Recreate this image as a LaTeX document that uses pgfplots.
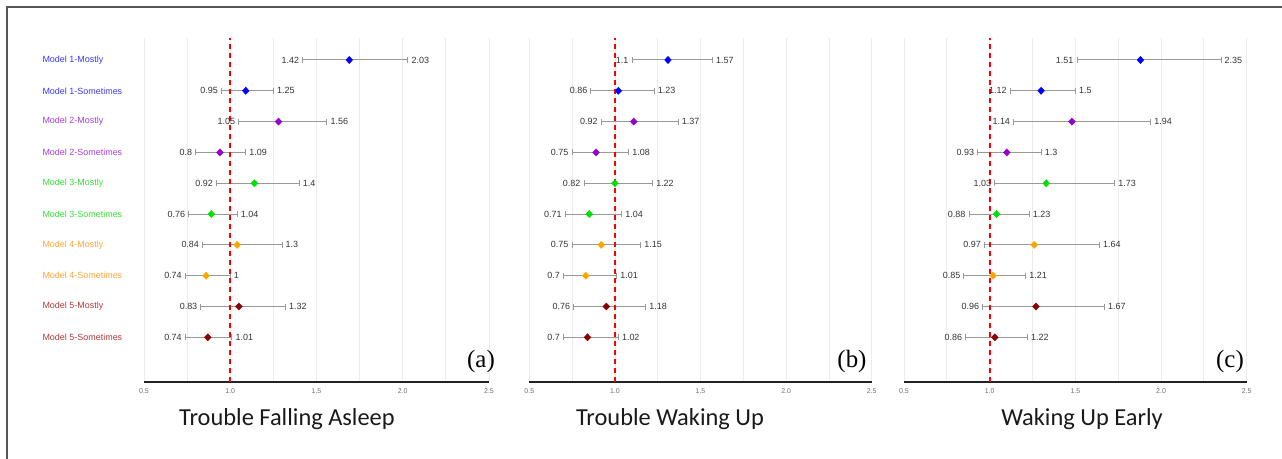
\documentclass[border=0pt]{standalone}
\usepackage{pgfplots}
\usepackage{pgfplotstable}
\usepackage{fontspec}
\pgfplotsset{compat=1.18}
\setmainfont{Liberation Sans}
\newfontfamily\titlefont{Carlito}
\newfontfamily\seriffont{Liberation Serif}

\definecolor{mone}{HTML}{0000FF}
\definecolor{mtwo}{HTML}{9400D3}
\definecolor{mthree}{HTML}{00E000}
\definecolor{mfour}{HTML}{FFA500}
\definecolor{mfive}{HTML}{8B0000}
\definecolor{lone}{HTML}{3A3AF0}
\definecolor{ltwo}{HTML}{A23EDB}
\definecolor{lthree}{HTML}{33DD33}
\definecolor{lfour}{HTML}{FFA535}
\definecolor{lfive}{HTML}{B03A3A}
\definecolor{barc}{HTML}{999999}
\definecolor{gridc}{HTML}{EBEBEB}
\definecolor{axisc}{HTML}{222222}
\definecolor{tickc}{HTML}{6E6E6E}
\definecolor{valc}{HTML}{333333}
\definecolor{framec}{HTML}{555555}

% y: 9 = Model 1-Mostly ... 0 = Model 5-Sometimes
\pgfplotstableread{
y est lo hi cls
9 1.69 1.42 2.03 m1
8 1.09 0.95 1.25 m1
7 1.28 1.05 1.56 m2
6 0.94 0.8 1.09 m2
5 1.14 0.92 1.4 m3
4 0.89 0.76 1.04 m3
3 1.04 0.84 1.3 m4
2 0.86 0.74 1 m4
1 1.05 0.83 1.32 m5
0 0.87 0.74 1.01 m5
}\asleep

\pgfplotstableread{
y est lo hi cls
9 1.31 1.1 1.57 m1
8 1.02 0.86 1.23 m1
7 1.11 0.92 1.37 m2
6 0.89 0.75 1.08 m2
5 1.00 0.82 1.22 m3
4 0.85 0.71 1.04 m3
3 0.92 0.75 1.15 m4
2 0.83 0.7 1.01 m4
1 0.95 0.76 1.18 m5
0 0.84 0.7 1.02 m5
}\wakingup

\pgfplotstableread{
y est lo hi cls
9 1.88 1.51 2.35 m1
8 1.30 1.12 1.5 m1
7 1.48 1.14 1.94 m2
6 1.10 0.93 1.3 m2
5 1.33 1.03 1.73 m3
4 1.04 0.88 1.23 m3
3 1.26 0.97 1.64 m4
2 1.02 0.85 1.21 m4
1 1.27 0.96 1.67 m5
0 1.03 0.86 1.22 m5
}\early

\pgfplotsset{
  forest/.style={
    scale only axis, height=344bp,
    xmin=0.5, xmax=2.5, ymin=-1.45, ymax=9.714,
    axis x line*=bottom, axis y line*=left,
    x axis line style={-, line width=2bp, color=axisc},
    y axis line style={draw=none},
    xtick={0.5,1,1.5,2,2.5}, xticklabels={0.5,1.0,1.5,2.0,2.5},
    minor xtick={0.75,1.25,1.75,2.25},
    xmajorgrids, xminorgrids,
    major grid style={gridc, line width=0.8bp},
    minor grid style={gridc, line width=0.8bp},
    tick style={draw=none},
    xticklabel style={font=\fontsize{7}{8}\selectfont, text=tickc, yshift=-3bp},
    ytick=\empty,
    clip=false,
  },
}

\newcommand\forest[1]{%
  \addplot[only marks, mark=none, error bars/.cd, x dir=both, x explicit,
    error bar style={draw=barc, line width=1bp},
    error mark options={draw=barc, line width=1bp, mark size=3bp, rotate=90}]
    table[x=est, y=y, x error plus expr=\thisrow{hi}-\thisrow{est},
          x error minus expr=\thisrow{est}-\thisrow{lo}] {#1};
  \addplot[red, line width=1.8bp, dash pattern=on 5bp off 4bp] coordinates {(1,-1.45) (1,9.714)};
  \addplot[scatter, only marks, scatter src=explicit symbolic,
    mark options={xscale=1.25},
    scatter/classes={
      m1={mark=diamond*, mark size=3.6bp, draw=mone, fill=mone},
      m2={mark=diamond*, mark size=3.6bp, draw=mtwo, fill=mtwo},
      m3={mark=diamond*, mark size=3.6bp, draw=mthree, fill=mthree},
      m4={mark=diamond*, mark size=3.6bp, draw=mfour, fill=mfour},
      m5={mark=diamond*, mark size=3.6bp, draw=mfive, fill=mfive}}]
    table[x=est, y=y, meta=cls] {#1};
  \addplot[draw=none, mark=none, nodes near coords, point meta=explicit symbolic,
    nodes near coords style={anchor=east, inner sep=0pt, xshift=-3.5bp,
      font=\fontsize{9}{10}\selectfont, text=valc}]
    table[x=lo, y=y, meta=lo] {#1};
  \addplot[draw=none, mark=none, nodes near coords, point meta=explicit symbolic,
    nodes near coords style={anchor=west, inner sep=0pt, xshift=3.5bp,
      font=\fontsize{9}{10}\selectfont, text=valc}]
    table[x=hi, y=y, meta=hi] {#1};
}

\begin{document}
\begin{tikzpicture}
\useasboundingbox (0,0) rectangle (1282bp,459bp);
\draw[framec, line width=1.6bp] (7bp,0) -- (7bp,452bp) -- (1282bp,452bp);

\begin{axis}[forest, at={(144bp,77bp)}, anchor=south west, width=345bp,
  ytick={0,...,9},
  yticklabels={\textcolor{lfive}{Model 5-Sometimes}, \textcolor{lfive}{Model 5-Mostly},
    \textcolor{lfour}{Model 4-Sometimes}, \textcolor{lfour}{Model 4-Mostly},
    \textcolor{lthree}{Model 3-Sometimes}, \textcolor{lthree}{Model 3-Mostly},
    \textcolor{ltwo}{Model 2-Sometimes}, \textcolor{ltwo}{Model 2-Mostly},
    \textcolor{lone}{Model 1-Sometimes}, \textcolor{lone}{Model 1-Mostly}},
  yticklabel style={anchor=west, xshift=-105bp, font=\fontsize{9}{10}\selectfont}]
\forest{\asleep}
\end{axis}

\begin{axis}[forest, at={(529.3bp,77bp)}, anchor=south west, width=342.4bp]
\forest{\wakingup}
\end{axis}

\begin{axis}[forest, at={(904bp,77bp)}, anchor=south west, width=342.7bp]
\forest{\early}
\end{axis}

\node[font=\titlefont\fontsize{24.5}{28}\selectfont, text=black!90] at (287bp,40bp) {Trouble Falling Asleep};
\node[font=\titlefont\fontsize{24.5}{28}\selectfont, text=black!90] at (670bp,40bp) {Trouble Waking Up};
\node[font=\titlefont\fontsize{24.5}{28}\selectfont, text=black!90] at (1082bp,40bp) {Waking Up Early};
\node[font=\seriffont\fontsize{25}{28}\selectfont] at (481bp,97bp) {(a)};
\node[font=\seriffont\fontsize{25}{28}\selectfont] at (852bp,97bp) {(b)};
\node[font=\seriffont\fontsize{25}{28}\selectfont] at (1230bp,97bp) {(c)};
\end{tikzpicture}
\end{document}
